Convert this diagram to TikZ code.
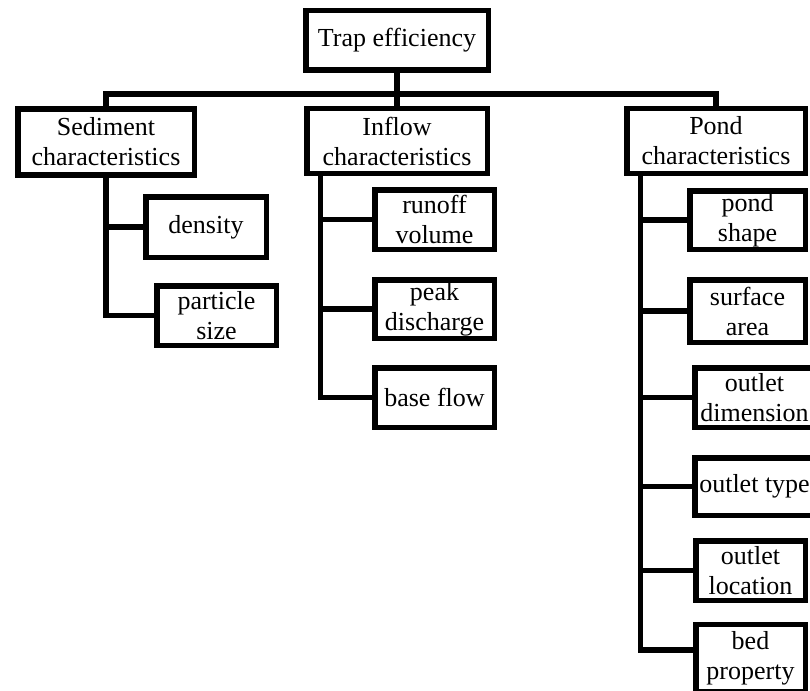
\documentclass[tikz,border=0pt]{standalone}
\usepackage{fontspec}
\setmainfont{Liberation Serif}
\usetikzlibrary{calc}
\begin{document}
\begin{tikzpicture}[x=1pt,y=-1pt,
  box/.style={draw, line width=5.5pt, rectangle, align=center, inner sep=0pt,
    font=\fontsize{26}{30}\selectfont},
  link/.style={line width=5.5pt},
]
\clip (0,0) rectangle (810,690);
\fill[white] (0,0) rectangle (810,690);
% level 0 and 1
\node[box, minimum width=182.5, minimum height=59.5] (top) at (397,40.5) {Trap efficiency};
\node[box, minimum width=176.5, minimum height=66] (sed) at (106,142) {Sediment\\characteristics};
\node[box, minimum width=180.5, minimum height=64.5] (inflow) at (397,141) {Inflow\\characteristics};
\node[box, minimum width=178.5, minimum height=64.5] (pond) at (716,141) {Pond\\characteristics};
% sediment children
\node[box, minimum width=120.5, minimum height=60.5] (density) at (206,227) {density};
\node[box, minimum width=119.5, minimum height=59.5] (particle) at (216.5,315.5) {particle\\size};
% inflow children
\node[box, minimum width=119.5, minimum height=59.5] (runoff) at (434.5,219.5) {runoff\\volume};
\node[box, minimum width=119.5, minimum height=58.5] (peak) at (434.5,309) {peak\\discharge};
\node[box, minimum width=119.5, minimum height=59.5] (base) at (434.5,397.5) {base flow};
% pond children
\node[box, minimum width=115.5, minimum height=58.5] (shape) at (747.5,220) {pond\\shape};
\node[box, minimum width=115.5, minimum height=62.5] (surface) at (747.5,311) {surface\\area};
\node[box, minimum width=119.5, minimum height=59.5] (outdim) at (754.5,397.5) {outlet\\dimension};
\node[box, minimum width=119.5, minimum height=57.5] (outtype) at (754.5,486.5) {outlet type};
\node[box, minimum width=109.5, minimum height=59.5] (outloc) at (750.5,570.5) {outlet\\location};
\node[box, minimum width=109.5, minimum height=67] (bed) at (750.5,658) {bed\\property};
% bus
\coordinate (bus) at (397,94);
\draw[link] (sed.north) |- (bus) -| (pond.north);
\draw[link] (top.south) -- (inflow.north);
% sediment links
\draw[link] (sed.south) |- (particle.west);
\draw[link] (sed.south |- density.west) -- (density.west);
% inflow links
\path (inflow.south west) ++(16.5,0) coordinate (ifl);
\draw[link] (ifl) |- (base.west);
\draw[link] (ifl |- runoff.west) -- (runoff.west);
\draw[link] (ifl |- peak.west) -- (peak.west);
% pond links
\path (pond.south west) ++(16.5,0) coordinate (pfl);
\path (bed.west) ++(0,-8) coordinate (bedin);
\draw[link] (pfl) |- (bedin);
\draw[link] (pfl |- shape.west) -- (shape.west);
\draw[link] (pfl |- surface.west) -- (surface.west);
\draw[link] (pfl |- outdim.west) -- (outdim.west);
\draw[link] (pfl |- outtype.west) -- (outtype.west);
\draw[link] (pfl |- outloc.west) -- (outloc.west);
\end{tikzpicture}
\end{document}
